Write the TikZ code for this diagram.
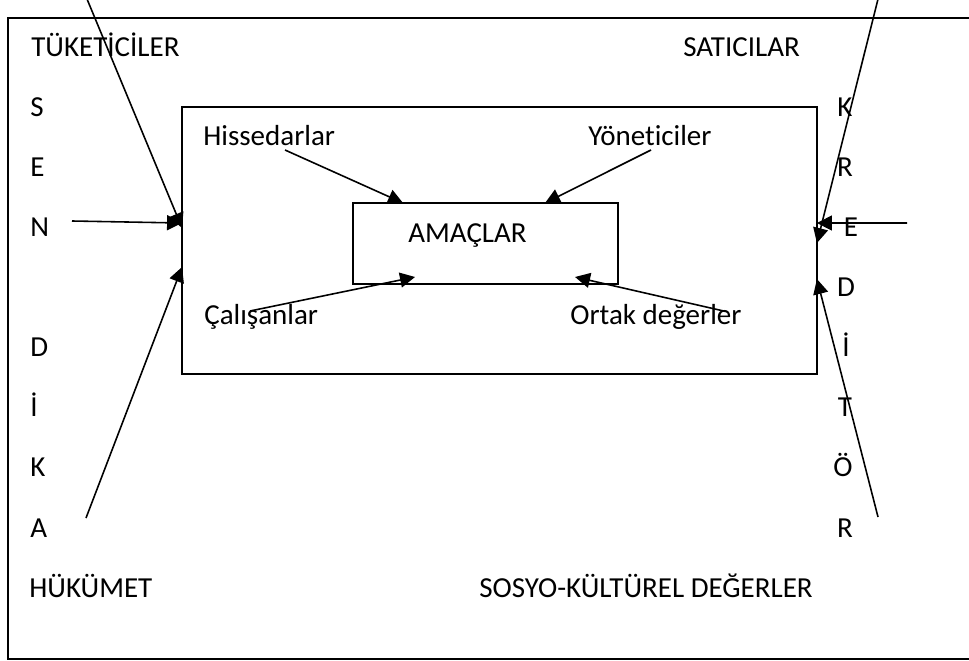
\documentclass[tikz,border=0pt]{standalone}
\usepackage{fontspec}
\setmainfont[Ligatures=NoCommon]{Carlito}
\usepackage{tikz}
\usetikzlibrary{arrows.meta,calc,positioning}
\tikzstyle{line} = [draw, line width=0.9pt, -{Triangle[length=0.3cm,width=0.3cm]}]
\tikzstyle{box} = [draw, line width=0.65pt, inner sep=0pt, outer sep=0pt]
\tikzstyle{txt} = [anchor=base west, inner sep=0pt, font=\fontsize{16.5}{20}\selectfont]

\begin{document}
\begin{tikzpicture}[x=0.02cm,y=-0.02cm]
		\useasboundingbox (0,0) rectangle (969,661);
		\clip (0,0) rectangle (969,661);
		
		\draw[line width=0.65pt] (8,18) rectangle (990,659); % outer frame
		
		\node[box, minimum width=12.7cm, minimum height=5.34cm] (org) at (499.5,240.5) {}; % inner box
		\node[box, minimum width=5.3cm, minimum height=1.62cm] (amac) at (485.5,243.5) {}; % goal box
		\node[txt] (amactxt) at (408,243) {AMAÇLAR};
		
		\node[txt] (tuk) at (31,57) {TÜKETİCİLER}; % corners
		\node[txt] (sat) at (683,57) {SATICILAR};
		\node[txt] (huk) at (29,597) {HÜKÜMET};
		\node[txt] (sos) at (479,597) {SOSYO-KÜLTÜREL DEĞERLER};
		
		\node[txt] (hiss) at (203,146) {Hissedarlar}; % inside
		\node[txt] (yon) at (588,146) {Yöneticiler};
		\node[txt] (cal) at (204,325) {Çalışanlar};
		\node[txt] (ort) at (570,325) {Ortak değerler};
		
		\node[txt] (s1) at (30,117) {S}; % left column
		\node[txt] (s2) at (30,177) {E};
		\node[txt] (s3) at (30,237) {N};
		\node[txt] (s4) at (30,357) {D};
		\node[txt] (s5) at (30,417) {İ};
		\node[txt] (s6) at (30,477) {K};
		\node[txt] (s7) at (30,537) {A};
		
		\node[txt, anchor=base] (k1) at (845,117) {K}; % right column
		\node[txt, anchor=base] (k2) at (845,177) {R};
		\node[txt, anchor=base] (k3) at (851,237) {E};
		\node[txt, anchor=base] (k4) at (846,297) {D};
		\node[txt, anchor=base] (k5) at (846,357) {İ};
		\node[txt, anchor=base] (k6) at (845,417) {T};
		\node[txt, anchor=base] (k7) at (843,477) {Ö};
		\node[txt, anchor=base] (k8) at (845,537) {R};
		
		\coordinate (tukEnd) at (87,-1); % free ends
		\coordinate (senEnd) at (72,221);
		\coordinate (hukEnd) at (86,518);
		\coordinate (satEnd) at (878,-1);
		\coordinate (krdEnd) at (907,223);
		\coordinate (sosEnd) at (878,517);
		
		\draw[line] (tukEnd) -- ($(org.north west)+(0,121)$); % into inner box
		\draw[line] (senEnd) -- ($(org.north west)+(0,116)$);
		\draw[line] (hukEnd) -- ($(org.north west)+(0,160)$);
		\draw[line] (satEnd) -- ($(org.north east)+(0,136)$);
		\draw[line] (krdEnd) -- ($(org.north east)+(0,116)$);
		\draw[line] (sosEnd) -- ($(org.north east)+(0,172)$);
		
		\draw[line] ($(hiss.base west)+(82,4)$) -- ($(amac.north west)+(50,0)$); % into goal box
		\draw[line] ($(yon.base west)+(63,4)$) -- ($(amac.north west)+(192,0)$);
		\draw[line] ($(cal.base west)+(46,-14)$) -- ($(amac.south west)+(62,-7)$);
		\draw[line] ($(ort.base west)+(158,-13)$) -- ($(amac.south west)+(222,-7)$);
		
\end{tikzpicture}
\end{document}
